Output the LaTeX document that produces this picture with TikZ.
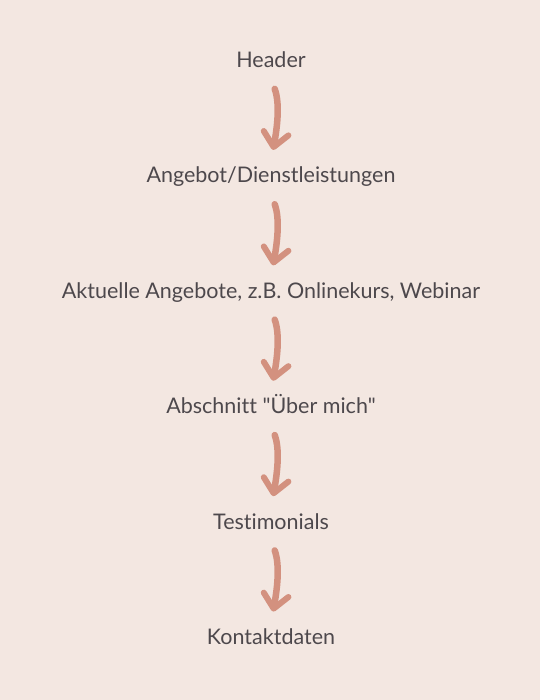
\documentclass[tikz,border=0pt]{standalone}
\usepackage{fontspec}
\setmainfont{Lato}[Ligatures={TeXOff,NoCommon}]
\usetikzlibrary{arrows.meta,positioning}
\definecolor{paper}{HTML}{F3E7E1}
\definecolor{ink}{HTML}{4D484C}
\definecolor{brush}{HTML}{D3917F}
\tikzset{
    x=1pt,y=1pt,node distance=100pt,
    step box/.style={inner sep=0pt,text height=15pt,text depth=0pt,text=ink,font=\fontsize{21.5}{25}\selectfont},
    curly/.style={draw=brush,line width=6.5pt,line cap=round,
      -{Straight Barb[length=14pt,width=25pt,line width=6pt,round]},
      shorten <=22.5pt,shorten >=18pt}
}
\begin{document}
\begin{tikzpicture}
\fill [paper] (0,0) rectangle (540,700);
\useasboundingbox (0,0) rectangle (540,700);
\node [step box] (HE) at (271,640) {Header};
\node [step box] (AN) [below=of HE] {Angebot/Dienstleistungen};
\node [step box] (AK) [below=of AN] {Aktuelle Angebote, z.B. Onlinekurs, Webinar};
\node [step box] (AB) [below=of AK] {Abschnitt "Über mich"};
\node [step box] (TE) [below=of AB] {Testimonials};
\node [step box] (KO) [below=of TE] {Kontaktdaten};
\foreach \from/\to in {HE/AN, AN/AK, AK/AB, AB/TE, TE/KO}
{
\draw [curly] ([xshift=-4pt]\from.south) to [out=-70,in=80] ([xshift=-1pt]\to.north);
}
\end{tikzpicture}
\end{document}
